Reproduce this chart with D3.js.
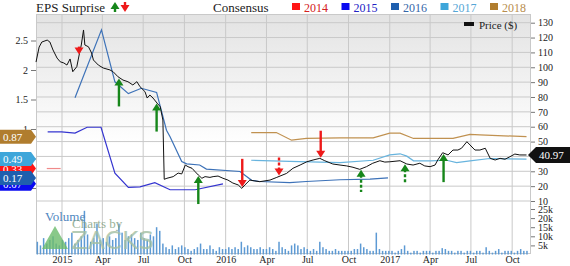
<!DOCTYPE html>
<html>
<head>
<meta charset="utf-8">
<script src="https://cdn.jsdelivr.net/npm/d3@7"></script>
<style>
  body { margin: 0; background: #fff; }
  svg { display: block; font-family: "Liberation Serif", "Times New Roman", serif; }
</style>
</head>
<body>
<svg id="chart" width="570" height="266"></svg>
<script>
// price ($)
const priceDates = ['2014-11-04','2014-11-11','2014-11-17','2014-11-29','2014-12-05','2014-12-12','2014-12-21','2014-12-28',
  '2015-01-05','2015-01-12','2015-01-19','2015-01-25','2015-02-03','2015-02-09','2015-02-13','2015-02-18','2015-02-21',
  '2015-03-01','2015-03-08','2015-03-12','2015-03-23','2015-04-03','2015-04-18','2015-04-25','2015-05-06','2015-05-17',
  '2015-05-28','2015-06-08','2015-06-17','2015-06-24','2015-07-05','2015-07-10','2015-07-16','2015-07-23','2015-08-01',
  '2015-08-08','2015-08-14','2015-08-17','2015-08-23','2015-09-06','2015-09-17','2015-09-25','2015-10-03','2015-10-09',
  '2015-10-18','2015-10-25','2015-11-01','2015-11-09','2015-11-16','2015-11-27','2015-12-04','2015-12-15','2015-12-26',
  '2016-01-06','2016-01-17','2016-01-29','2016-02-06','2016-02-13','2016-02-24','2016-03-06','2016-03-17','2016-04-09',
  '2016-04-24','2016-05-16','2016-05-30','2016-06-15','2016-06-30','2016-07-14','2016-07-29','2016-08-09','2016-08-27',
  '2016-09-12','2016-09-27','2016-10-11','2016-10-26','2016-11-10','2016-11-24','2016-12-10','2016-12-21','2017-01-01',
  '2017-01-24','2017-02-08','2017-02-22','2017-03-09','2017-03-20','2017-04-01','2017-04-12','2017-04-18','2017-04-29',
  '2017-05-11','2017-05-22','2017-06-02','2017-06-10','2017-06-22','2017-06-29','2017-07-10','2017-07-21','2017-08-02',
  '2017-08-13','2017-08-24','2017-09-04','2017-09-15','2017-09-26','2017-10-07','2017-10-18','2017-11-02'];
const priceValues = [103.5,113.6,117,118.3,117,111.6,106.2,103.7,
  102.9,101.5,105.6,97,100.4,109.4,115,125.1,115,
  113.8,109.6,104.9,101.5,99.5,98.2,97,93.6,91.4,
  90.3,88.1,90.3,86.9,83.6,79.3,81.3,79.3,75.9,
  73.5,64.5,24.6,25.3,26.4,28.8,28.2,34.2,33.1,
  32,29.7,27.5,25.3,26.4,25.9,26.4,26.8,25.3,
  24.1,22.1,20.8,18.5,20.8,24.1,23.5,23,24.1,
  25.9,28.6,32,34.2,36.4,37.6,38.7,37.1,34.9,
  34.2,33.6,32.7,31.3,33.1,35.4,37.1,36.2,36.4,
  37.1,34.9,34.2,35.4,33.6,33.1,34.2,37.6,42.5,
  41,44.3,44.3,45.5,49.9,47.7,44.3,44.3,45.5,
  38.7,37.6,38.7,38.1,39.8,41.6,41,40.97];

// weekly volume (thousands), first week ending 2014-11-07
const volumeStart = '2014-11-07';
const volumeValues = [7,5,9,6,8,10,6,5,
  8,7,9,12,6,8,10,24,11,7,9,17,8,
  9,7,10,8,9,17,12,8,10,11,9,8,12,
  9,8,11,10,15,13,6,4,3,5,3,4,5,
  4,3,2,3,4,6,3,3,5,3,2,4,3,
  3,4,3,4,3,7,4,5,4,3,3,4,3,
  3,4,3,2,7,4,3,2,5,6,5,3,4,
  3,2,3,2,7,4,3,2,2,3,2,2,2,
  2,2,3,3,6,4,3,2,2,12,3,2,2,
  2,2,1,2,3,5,2,1,2,2,1,2,2,
  2,1,2,2,3.5,3,2,2,1,2,2,1,2,
  2,1,2,2,1,4,2,1,2,3,1,2,2,
  2,1,2,3,2,2];

// consensus EPS estimates by fiscal year
const years = ['2014','2015','2016','2017','2018'];
const eps2014Dates = ['2014-11-28','2014-12-29'];
const eps2014Values = [0.33,0.33];
const eps2015Dates = ['2014-11-30','2014-12-31','2015-01-30','2015-02-26','2015-03-29','2015-04-29','2015-05-29',
  '2015-06-24','2015-07-27','2015-08-30','2015-10-25','2015-12-26'];
const eps2015Values = [0.95,0.95,0.93,1.03,1.03,0.25,0.01,0.02,0.09,-0.03,-0.03,0.07];
const eps2016Dates = ['2015-01-30','2015-03-30','2015-04-29','2015-05-29','2015-06-27','2015-07-31','2015-08-22',
  '2015-08-30','2015-09-25','2015-10-06','2015-11-04','2015-11-19','2016-02-02','2016-02-28','2016-03-17',
  '2016-05-23','2016-06-29','2016-09-12','2016-11-18','2016-12-28'];
const eps2016Values = [1.53,2.68,1.8,1.6,1.69,1.62,0.98,0.87,0.45,0.41,0.39,0.32,0.28,0.13,0.11,0.09,0.11,0.14,0.15,0.17];
const eps2017Dates = ['2016-02-27','2016-05-23','2016-09-12','2016-11-25','2017-01-01','2017-01-24','2017-02-08',
  '2017-02-23','2017-04-01','2017-05-08','2017-05-30','2017-06-29','2017-08-12','2017-11-02'];
const eps2017Values = [0.47,0.45,0.43,0.47,0.56,0.58,0.54,0.46,0.46,0.47,0.43,0.46,0.5,0.49];
const eps2018Dates = ['2016-02-27','2016-04-23','2016-05-27','2016-06-29','2016-09-12','2016-11-25','2017-01-01',
  '2017-01-24','2017-02-23','2017-05-22','2017-06-29','2017-07-21','2017-11-02'];
const eps2018Values = [0.94,0.94,0.81,0.84,0.85,0.85,0.93,0.93,0.84,0.84,0.91,0.9,0.87];

// EPS surprise (%), positive = beat
const surpriseDates = ['2015-02-08','2015-05-08','2015-07-31','2015-11-01','2016-02-07','2016-04-29','2016-07-31',
  '2016-10-29','2017-02-04','2017-05-01'];
const surpriseValues = [-24,85,85,85,-85,-55,-82,67,60,85];
const surpriseDashed = [false,false,false,false,false,true,false,true,true,false];

const priceTicks = [10,20,30,40,50,60,70,80,90,100,110,120,130];
const volumeTicks = [5,10,15,20,25];
const epsTicks = [0,0.5,1,1.5,2,2.5];
const lastPrice = 40.97;

const lineColors = { '2014': '#f08a8a', '2015': '#3434d0', '2016': '#3d72b8', '2017': '#68b4de', '2018': '#c09150' };
const boxColors = { '2014': '#ff1515', '2015': '#0a0af0', '2016': '#1f5fae', '2017': '#3ea6da', '2018': '#b07d2e' };
const textColors = { '2014': '#d42020', '2015': '#2222c4', '2016': '#3566a8', '2017': '#55a6d6', '2018': '#b88d4e' };

const parse = d3.timeParse('%Y-%m-%d');
const svg = d3.select('#chart');
const plotLeft = 36, plotRight = 531, plotTop = 14, plotBottom = 254;

const x = d3.scaleTime().domain([parse('2014-11-04'), parse('2017-11-12')]).range([plotLeft, plotRight]);
const yPrice = d3.scaleLinear().domain([10, 130]).range([201, 22.7]);
const yEps = d3.scaleLinear().domain([0, 2.5]).range([188, 40.5]);
const yVol = d3.scaleLinear().domain([0, 25]).range([254.5, 209]);
const arrowLen = d3.scaleLinear().domain([0, 100]).range([0, 33]);

const price = priceDates.map((d, i) => ({ date: parse(d), value: priceValues[i] }));
const consensus = {
  '2014': eps2014Dates.map((d, i) => ({ date: parse(d), value: eps2014Values[i] })),
  '2015': eps2015Dates.map((d, i) => ({ date: parse(d), value: eps2015Values[i] })),
  '2016': eps2016Dates.map((d, i) => ({ date: parse(d), value: eps2016Values[i] })),
  '2017': eps2017Dates.map((d, i) => ({ date: parse(d), value: eps2017Values[i] })),
  '2018': eps2018Dates.map((d, i) => ({ date: parse(d), value: eps2018Values[i] }))
};

// background
const defs = svg.append('defs');
const grad = defs.append('linearGradient').attr('id', 'bg').attr('x1', 0).attr('y1', 0).attr('x2', 0).attr('y2', 1);
grad.append('stop').attr('offset', '0%').attr('stop-color', '#e3e3e3');
grad.append('stop').attr('offset', '55%').attr('stop-color', '#ffffff');
svg.append('rect').attr('x', plotLeft).attr('y', plotTop).attr('width', plotRight - plotLeft).attr('height', plotBottom - plotTop)
  .attr('fill', 'url(#bg)');

// grid
const monthTicks = d3.timeMonth.every(3).range(parse('2015-01-01'), parse('2017-11-01'));
svg.append('g').selectAll('line').data(monthTicks).join('line')
  .attr('x1', d => x(d)).attr('x2', d => x(d)).attr('y1', plotTop).attr('y2', plotBottom)
  .attr('stroke', '#c9c9c9');
svg.append('g').selectAll('line').data(priceTicks).join('line')
  .attr('x1', plotLeft).attr('x2', plotRight).attr('y1', d => yPrice(d)).attr('y2', d => yPrice(d))
  .attr('stroke', '#c9c9c9');
svg.append('rect').attr('x', plotLeft + 0.5).attr('y', plotTop + 0.5).attr('width', plotRight - plotLeft - 1).attr('height', plotBottom - plotTop - 1)
  .attr('fill', 'none').attr('stroke', '#c9c9c9');

// volume
const vStart = parse(volumeStart);
svg.append('g').selectAll('rect').data(volumeValues).join('rect')
  .attr('x', (d, i) => x(d3.timeDay.offset(vStart, i * 7)) - 0.75)
  .attr('width', 1.5)
  .attr('y', d => yVol(d))
  .attr('height', d => yVol(0) - yVol(d))
  .attr('fill', '#5d9ad4');

svg.append('text').attr('x', 45).attr('y', 221).attr('font-size', 13).attr('fill', '#4f86c0').text('Volume');

// watermark
const wm = svg.append('g').attr('opacity', 0.8);
wm.append('path').attr('d', 'M42,249 L55,226 L68,249 Z').attr('fill', '#6cbc6c');
wm.append('text').attr('x', 72).attr('y', 228).attr('font-size', 13).attr('fill', '#7fa07f').text('Charts by');
wm.append('text').attr('x', 71).attr('y', 249).attr('font-size', 25).attr('font-family', 'DejaVu Sans, sans-serif')
  .attr('textLength', 83).attr('lengthAdjust', 'spacingAndGlyphs')
  .attr('fill', '#a3c0a3').text('ZACKS');

// consensus lines
const epsLine = d3.line().x(d => x(d.date)).y(d => yEps(d.value));
years.forEach(yr => {
  svg.append('path').datum(consensus[yr]).attr('d', epsLine)
    .attr('fill', 'none').attr('stroke', lineColors[yr]).attr('stroke-width', 1.2);
});

// price line
const priceLine = d3.line().x(d => x(d.date)).y(d => yPrice(d.value));
svg.append('path').datum(price).attr('d', priceLine)
  .attr('fill', 'none').attr('stroke', '#111').attr('stroke-width', 1);

// surprise arrows
function priceAt(date) {
  const i = d3.bisector(d => d.date).left(price, date);
  const a = price[Math.max(i - 1, 0)], b = price[Math.min(i, price.length - 1)];
  if (a === b) return a.value;
  const t = (date - a.date) / (b.date - a.date);
  return a.value + t * (b.value - a.value);
}
function arrow(g, cx, tip, len, up, color, dashed) {
  const s = up ? 1 : -1;
  g.append('line').attr('x1', cx).attr('x2', cx).attr('y1', tip + s * 5).attr('y2', tip + s * len)
    .attr('stroke', color).attr('stroke-width', 2.4).attr('stroke-dasharray', dashed ? '3,2' : null);
  g.append('path').attr('d', `M${cx},${tip} L${cx - 4.5},${tip + s * 7} L${cx + 4.5},${tip + s * 7} Z`).attr('fill', color);
}
const arrows = svg.append('g');
surpriseDates.forEach((d, i) => {
  const date = parse(d);
  const beat = surpriseValues[i] > 0;
  const tip = yPrice(priceAt(date)) + (beat ? 1 : -1);
  arrow(arrows, x(date), tip, arrowLen(Math.abs(surpriseValues[i])), beat, beat ? '#16861a' : '#ee1a1a', surpriseDashed[i]);
});

// left axis (labels below 1 sit under the consensus tags)
const la = svg.append('g').attr('transform', `translate(${plotLeft},0)`)
  .call(d3.axisLeft(yEps).tickValues(epsTicks).tickSize(5).tickPadding(3).tickFormat(d => d >= 1 ? d : ''));
la.select('.domain').remove();
la.selectAll('line').attr('stroke', '#777');
la.selectAll('text').attr('font-family', 'Liberation Serif, serif').attr('font-size', 10).attr('fill', '#222');

// right axis (40 sits under the last-price tag)
const ra = svg.append('g').attr('transform', `translate(${plotRight},0)`)
  .call(d3.axisRight(yPrice).tickValues(priceTicks).tickSize(4).tickPadding(3)
    .tickFormat(d => Math.abs(yPrice(d) - yPrice(lastPrice)) < 8 ? '' : d));
ra.select('.domain').remove();
const rv = svg.append('g').attr('transform', `translate(${plotRight},0)`)
  .call(d3.axisRight(yVol).tickValues(volumeTicks).tickSize(4).tickPadding(3).tickFormat(d => d + 'k'));
rv.select('.domain').remove();
[ra, rv].forEach(a => {
  a.selectAll('line').attr('stroke', '#777');
  a.selectAll('text').attr('font-family', 'Liberation Serif, serif').attr('font-size', 10).attr('fill', '#222');
});

// bottom axis
const ba = svg.append('g').attr('transform', `translate(0,${plotBottom})`)
  .call(d3.axisBottom(x).tickValues(monthTicks).tickSize(0).tickPadding(2)
    .tickFormat(d => d.getMonth() === 0 ? d3.timeFormat('%Y')(d) : d3.timeFormat('%b')(d)));
ba.select('.domain').remove();
ba.selectAll('text').attr('font-family', 'Liberation Serif, serif').attr('font-size', 10).attr('fill', '#222');

// consensus tags on the left
years.forEach(yr => {
  const v = consensus[yr][consensus[yr].length - 1].value;
  const cy = yEps(v);
  const t = svg.append('g');
  t.append('path').attr('d', `M0,${cy - 7} L31,${cy - 7} L36,${cy} L31,${cy + 7} L0,${cy + 7} Z`).attr('fill', boxColors[yr]);
  t.append('text').attr('x', 3).attr('y', cy + 4).attr('font-size', 11).attr('fill', '#fff').text(d3.format('.2f')(v));
});

// last price tag
const py = yPrice(lastPrice);
svg.append('path').attr('d', `M528,${py} L536,${py - 8} L570,${py - 8} L570,${py + 8} L536,${py + 8} Z`).attr('fill', '#111');
svg.append('text').attr('x', 539).attr('y', py + 4).attr('font-size', 11).attr('fill', '#fff').text(lastPrice);

// legends
svg.append('text').attr('x', 36).attr('y', 12).attr('font-size', 13).attr('fill', '#222').text('EPS Surprise');
const lg = svg.append('g');
arrow(lg, 115, 2, 10, true, '#16861a', false);
arrow(lg, 125, 12, 10, false, '#ee1a1a', false);
svg.append('text').attr('x', 213).attr('y', 12).attr('font-size', 13).attr('fill', '#222').text('Consensus');
const legendX = d3.scalePoint().domain(years).range([292, 490]);
years.forEach(yr => {
  const lx = legendX(yr);
  svg.append('rect').attr('x', lx).attr('y', 3).attr('width', 8).attr('height', 7).attr('fill', boxColors[yr]);
  svg.append('text').attr('x', lx + 12).attr('y', 11.5).attr('font-size', 12).attr('fill', textColors[yr]).text(yr);
});
svg.append('rect').attr('x', 464).attr('y', 22).attr('width', 10).attr('height', 4).attr('fill', '#111');
svg.append('text').attr('x', 479).attr('y', 29).attr('font-size', 11).attr('fill', '#222').text('Price ($)');
</script>
</body>
</html>
